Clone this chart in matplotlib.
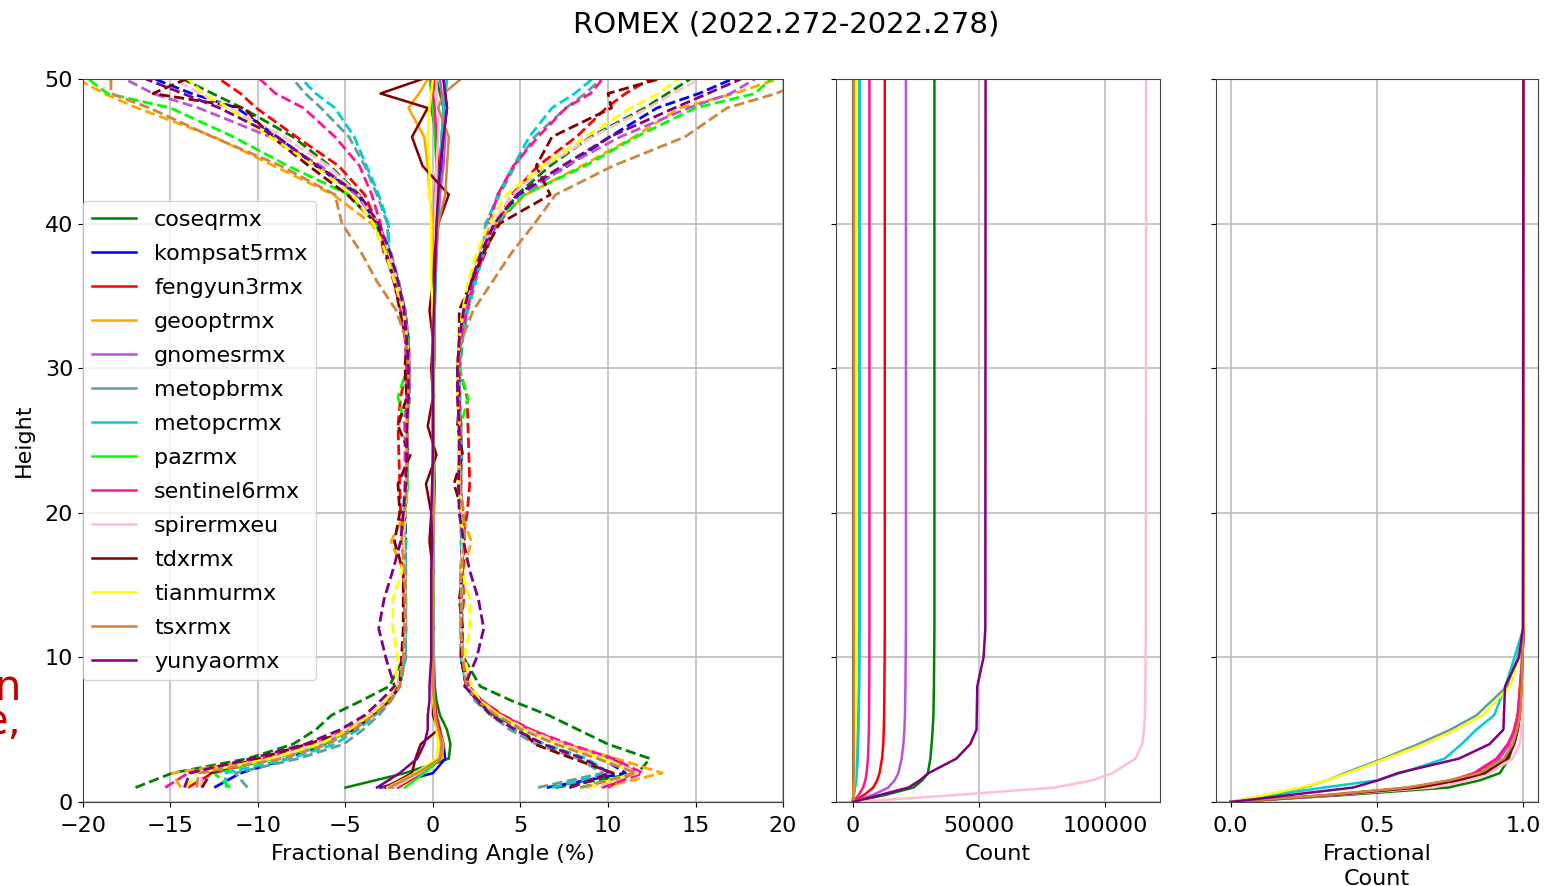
import numpy as np
import matplotlib.pyplot as plt

missions = ['coseqrmx', 'kompsat5rmx', 'fengyun3rmx', 'geooptrmx', 'gnomesrmx',
            'metopbrmx', 'metopcrmx', 'pazrmx', 'sentinel6rmx', 'spirermxeu',
            'tdxrmx', 'tianmurmx', 'tsxrmx', 'yunyaormx']
colors = ['green', 'blue', 'red', 'orange', 'mediumorchid', 'cadetblue',
          'darkturquoise', 'lime', 'deeppink', 'pink', 'maroon', 'yellow',
          'peru', 'purple']

# heights (km) of the bending angle statistics
heights = [1, 2, 3, 4, 5, 6, 7, 8, 10, 12, 14, 16, 18, 20, 22, 24, 26, 28, 30,
           32, 34, 36, 38, 40, 42, 44, 46, 48, 49, 50]

# mean fractional bending angle (%)
mean_coseq = [-5.0, -1.6, 0.9, 1.0, 0.8, 0.4, 0.2, 0.1, 0.05, 0.0, 0.0, 0.05, 0.0, 0.0, 0.05,
              0.0, 0.0, 0.05, 0.0, 0.05, 0.1, 0.1, 0.15, 0.2, 0.3, 0.4, 0.5, 0.6, 0.4, 0.2]
mean_kompsat5 = [-3.0, 0.0, 0.7, 0.6, 0.3, 0.1, 0.05, 0.0, 0.0, 0.05, 0.0, 0.0, 0.05, 0.0, 0.0,
                 0.05, 0.0, 0.0, 0.05, 0.1, 0.1, 0.1, 0.15, 0.2, 0.3, 0.5, 0.6, 0.8, 0.7, 0.6]
mean_fengyun3 = [-2.0, -0.6, 0.5, 0.6, 0.4, 0.2, 0.1, 0.05, 0.0, 0.0, 0.05, 0.0, 0.0, 0.05, 0.1,
                 0.05, 0.0, 0.05, 0.0, 0.0, 0.05, 0.1, 0.1, 0.2, 0.3, 0.3, 0.2, -0.1, 0.0, 0.1]
mean_geoopt = [-2.4, -0.9, 0.5, 0.6, 0.3, 0.1, 0.05, 0.0, 0.0, 0.0, 0.05, 0.0, -0.1, 0.0, 0.05,
               0.0, 0.0, 0.0, 0.05, 0.0, 0.0, 0.05, 0.0, 0.0, -0.2, -0.3, -0.5, -1.4, -0.8, -0.3]
mean_gnomes = [-2.2, -0.7, 0.4, 0.5, 0.3, 0.1, 0.05, 0.0, 0.0, 0.05, 0.05, 0.0, 0.0, 0.05, 0.0,
               0.05, 0.0, 0.05, 0.05, 0.1, 0.1, 0.15, 0.2, 0.3, 0.4, 0.6, 0.7, 0.6, 0.5, 0.4]
mean_metopb = [-2.3, -0.8, 0.3, 0.4, 0.2, 0.1, 0.0, 0.0, 0.05, 0.0, 0.0, 0.05, 0.0, 0.0, 0.05,
               0.0, 0.0, 0.05, 0.0, 0.05, 0.1, 0.1, 0.15, 0.2, 0.3, 0.4, 0.5, 0.6, 0.7, 0.8]
mean_metopc = [-2.5, -0.9, 0.3, 0.4, 0.2, 0.1, 0.05, 0.0, 0.0, 0.05, 0.0, 0.0, 0.05, 0.0, 0.0,
               0.05, 0.0, 0.0, 0.05, 0.1, 0.1, 0.15, 0.2, 0.25, 0.3, 0.4, 0.5, 0.6, 0.7, 0.8]
mean_paz = [-1.6, -0.5, 0.4, 0.5, 0.3, 0.1, 0.05, 0.0, 0.0, 0.0, 0.05, 0.0, 0.0, 0.0, 0.05,
            0.0, 0.0, 0.0, 0.0, 0.05, 0.05, 0.1, 0.1, 0.1, 0.2, 0.2, 0.1, 0.0, -0.1, -0.2]
mean_sentinel6 = [-2.8, -1.0, 0.3, 0.5, 0.3, 0.15, 0.1, 0.05, 0.0, 0.0, 0.0, 0.0, 0.0, 0.0, 0.0,
                  0.0, 0.0, 0.0, 0.0, 0.0, 0.05, 0.05, 0.1, 0.1, 0.1, 0.2, 0.2, 0.1, 0.0, -0.1]
mean_spire = [-2.2, -0.8, 0.3, 0.4, 0.2, 0.1, 0.05, 0.0, 0.0, 0.0, 0.0, 0.0, 0.0, 0.0, 0.0,
              0.0, 0.0, 0.0, 0.0, 0.0, 0.05, 0.05, 0.1, 0.1, 0.15, 0.2, 0.3, 0.3, 0.2, 0.2]
mean_tdx = [-2.7, -1.2, -1.0, -0.7, 0.3, 0.0, 0.0, 0.0, -0.1, 0.0, -0.1, 0.0, -0.2, -0.1, -0.4,
            0.2, -0.3, 0.0, -0.1, 0.0, -0.2, 0.0, 0.1, 0.3, 0.9, -0.6, -1.2, -0.3, -3.0, -0.6]
mean_tianmu = [-2.6, -1.0, 0.2, 0.3, 0.2, 0.1, 0.0, 0.0, -0.1, -0.1, -0.1, -0.05, 0.0, 0.0, 0.0,
               0.0, 0.0, 0.0, 0.0, 0.0, 0.0, -0.1, -0.1, -0.1, -0.2, -0.2, -0.3, -0.2, -0.1, 0.0]
mean_tsx = [-2.5, -0.9, 0.4, 0.5, 0.3, 0.1, 0.05, 0.0, 0.0, 0.0, 0.0, 0.0, 0.0, 0.05, 0.0,
            0.0, 0.05, 0.0, 0.0, 0.05, 0.1, 0.1, 0.2, 0.3, 0.7, 0.8, 0.9, 0.3, 0.6, 1.6]
mean_yunyao = [-3.2, -1.9, -0.9, -0.5, -0.3, -0.3, -0.2, -0.2, -0.1, -0.1, -0.1, -0.1, -0.05, -0.1, -0.05,
               0.0, 0.0, 0.0, 0.0, 0.0, 0.05, 0.1, 0.15, 0.2, 0.3, 0.4, 0.6, 0.8, 0.7, 0.6]

# standard deviation of fractional bending angle (%)
std_coseq = [12.0, 13.3, 11.5, 9.0, 7.5, 6.2, 4.3, 2.6, 1.7, 1.6, 1.6, 1.6, 1.7, 1.6, 1.5,
             1.5, 1.5, 1.4, 1.4, 1.5, 1.7, 2.1, 2.7, 3.4, 4.5, 6.3, 8.5, 11.5, 13.0, 14.5]
std_kompsat5 = [9.5, 11.0, 9.0, 6.8, 5.2, 3.6, 2.6, 1.9, 1.6, 1.6, 1.6, 1.6, 1.6, 1.6, 1.5,
                1.5, 1.5, 1.4, 1.4, 1.5, 1.7, 2.1, 2.7, 3.4, 4.6, 7.2, 9.5, 12.0, 14.5, 16.5]
std_fengyun3 = [12.0, 12.0, 9.8, 7.0, 5.2, 3.8, 2.7, 2.0, 1.6, 1.6, 1.7, 1.7, 1.7, 1.9, 2.0,
                2.0, 2.0, 1.9, 1.5, 1.5, 1.7, 2.2, 2.9, 3.4, 4.2, 5.7, 8.0, 10.0, 11.0, 12.3]
std_geoopt = [12.0, 14.0, 10.0, 7.0, 5.0, 3.6, 2.6, 2.0, 1.7, 1.6, 1.6, 1.7, 2.3, 1.6, 1.5,
              1.5, 1.5, 1.4, 1.4, 1.5, 1.7, 2.1, 2.6, 3.5, 5.5, 8.8, 12.0, 15.5, 18.0, 20.0]
std_gnomes = [11.0, 12.5, 9.5, 6.8, 5.0, 3.6, 2.6, 2.0, 1.7, 1.6, 1.6, 1.6, 1.7, 1.7, 1.5,
              1.5, 1.5, 1.4, 1.4, 1.5, 1.7, 2.1, 2.6, 3.4, 4.8, 7.0, 10.0, 14.0, 16.5, 18.0]
std_metopb = [8.3, 10.5, 8.0, 5.5, 4.2, 3.2, 2.4, 1.9, 1.6, 1.6, 1.6, 1.6, 1.6, 1.6, 1.5,
              1.5, 1.5, 1.5, 1.5, 1.6, 1.8, 2.2, 2.7, 2.8, 3.5, 4.3, 5.3, 7.0, 8.0, 8.8]
std_metopc = [9.3, 11.0, 8.5, 6.0, 4.5, 3.4, 2.5, 1.9, 1.6, 1.6, 1.6, 1.6, 1.6, 1.7, 1.6,
              1.6, 1.6, 1.5, 1.5, 1.6, 1.9, 2.3, 2.7, 2.8, 3.4, 4.2, 5.0, 6.2, 7.4, 8.3]
std_paz = [10.0, 12.0, 9.5, 6.8, 5.0, 3.6, 2.6, 2.0, 1.7, 1.6, 1.6, 1.6, 1.7, 1.6, 1.5,
           1.5, 1.6, 2.0, 1.5, 1.5, 1.7, 2.1, 2.6, 3.4, 5.0, 8.5, 11.5, 15.0, 18.5, 19.5]
std_sentinel6 = [12.5, 13.0, 10.0, 7.3, 5.3, 3.8, 2.7, 2.0, 1.7, 1.6, 1.6, 1.6, 1.7, 1.6, 1.6,
                 1.6, 1.6, 1.5, 1.5, 1.6, 1.9, 2.3, 2.8, 3.1, 3.6, 4.4, 5.8, 7.5, 9.0, 9.8]
std_spire = [11.0, 12.5, 9.5, 7.0, 5.2, 3.7, 2.6, 2.0, 1.7, 1.6, 1.6, 1.6, 1.7, 1.7, 1.5,
             1.5, 1.5, 1.4, 1.4, 1.5, 1.7, 2.1, 2.6, 3.3, 4.4, 6.2, 8.8, 12.0, 13.5, 15.0]
std_tdx = [10.5, 11.5, 9.0, 6.5, 4.8, 3.5, 2.5, 1.9, 1.7, 1.7, 1.6, 1.7, 2.0, 1.8, 1.6,
           1.5, 1.7, 1.5, 1.5, 1.5, 1.7, 2.2, 2.8, 3.5, 5.8, 6.5, 8.0, 10.5, 13.0, 13.5]
std_tianmu = [11.5, 12.5, 9.5, 6.8, 5.0, 3.7, 2.7, 2.2, 1.9, 2.2, 2.2, 1.7, 1.7, 1.6, 1.5,
              1.5, 1.5, 1.4, 1.4, 1.5, 1.7, 2.1, 2.6, 3.3, 4.4, 6.5, 9.0, 11.5, 13.0, 14.0]
std_tsx = [11.0, 12.5, 9.0, 6.5, 4.8, 3.5, 2.5, 1.9, 1.7, 1.6, 1.6, 1.6, 1.8, 1.7, 1.5,
           1.5, 1.5, 1.4, 1.4, 1.6, 2.2, 3.3, 4.3, 5.5, 6.3, 9.5, 13.5, 16.5, 19.0, 20.0]
std_yunyao = [11.0, 12.0, 9.5, 6.8, 5.0, 3.6, 2.8, 2.0, 2.6, 3.0, 2.7, 2.2, 1.8, 1.6, 1.5,
              1.5, 1.5, 1.4, 1.4, 1.5, 1.7, 2.1, 2.6, 3.3, 4.5, 7.0, 9.5, 13.0, 15.0, 17.0]

# cumulative counts
count_heights = [0, 0.5, 1, 1.5, 2, 3, 4, 5, 6, 8, 10, 12, 50]
count_coseq = [0, 13000, 24000, 27500, 29700, 30700, 31200, 31600, 31900, 32100, 32200, 32300, 32300]
count_kompsat5 = [0, 105, 186, 228, 258, 282, 290, 294, 296, 298, 299, 300, 300]
count_fengyun3 = [0, 4500, 8000, 9600, 10500, 11500, 12000, 12200, 12350, 12450, 12550, 12600, 12600]
count_geoopt = [0, 150, 270, 340, 385, 420, 434, 440, 443, 446, 448, 450, 450]
count_gnomes = [0, 8000, 14000, 16500, 18000, 19300, 20000, 20400, 20600, 20800, 20900, 21000, 21000]
count_metopb = [0, 325, 625, 825, 975, 1300, 1600, 1875, 2100, 2360, 2450, 2500, 2500]
count_metopc = [0, 390, 830, 1300, 1510, 1900, 2050, 2180, 2340, 2440, 2520, 2600, 2600]
count_paz = [0, 100, 178, 215, 242, 263, 270, 274, 276, 278, 279, 280, 280]
count_sentinel6 = [0, 2300, 4000, 4900, 5400, 5900, 6150, 6300, 6380, 6440, 6480, 6500, 6500]
count_spire = [0, 42000, 80000, 95000, 103000, 112000, 114800, 115500, 115800, 116000, 116100, 116200, 116300]
count_tdx = [0, 115, 205, 248, 278, 302, 310, 314, 316, 318, 319, 320, 320]
count_tianmu = [0, 156, 312, 430, 520, 690, 858, 1000, 1118, 1240, 1280, 1300, 1300]
count_tsx = [0, 112, 200, 246, 280, 308, 318, 323, 326, 328, 329, 330, 330]
count_yunyao = [0, 11000, 22000, 26500, 30000, 41000, 46500, 49000, 49100, 49300, 51800, 52500, 52600]

means = [mean_coseq, mean_kompsat5, mean_fengyun3, mean_geoopt, mean_gnomes, mean_metopb,
         mean_metopc, mean_paz, mean_sentinel6, mean_spire, mean_tdx, mean_tianmu, mean_tsx,
         mean_yunyao]
stds = [std_coseq, std_kompsat5, std_fengyun3, std_geoopt, std_gnomes, std_metopb,
        std_metopc, std_paz, std_sentinel6, std_spire, std_tdx, std_tianmu, std_tsx,
        std_yunyao]
counts = [count_coseq, count_kompsat5, count_fengyun3, count_geoopt, count_gnomes, count_metopb,
          count_metopc, count_paz, count_sentinel6, count_spire, count_tdx, count_tianmu,
          count_tsx, count_yunyao]

fs = 16
fig = plt.figure(figsize=(15.45, 8.86), dpi=100)
ax1 = fig.add_axes([0.0537, 0.0948, 0.4531, 0.816])
ax2 = fig.add_axes([0.5411, 0.0948, 0.2097, 0.816], sharey=ax1)
ax3 = fig.add_axes([0.7871, 0.0948, 0.2084, 0.816], sharey=ax1)

for name, col, m, s, c in zip(missions, colors, means, stds, counts):
    m = np.array(m)
    s = np.array(s)
    c = np.array(c, dtype=float)
    ax1.plot(m, heights, color=col, lw=1.8, label=name)
    ax1.plot(m - s, heights, color=col, lw=2, ls='--')
    ax1.plot(m + s, heights, color=col, lw=2, ls='--')
    ax2.plot(c, count_heights, color=col, lw=1.8)
    ax3.plot(c / c.max(), count_heights, color=col, lw=1.8)

ax1.set_xlim(-20, 20)
ax1.set_ylim(0, 50)
ax1.set_yticks([0, 10, 20, 30, 40, 50])
ax1.set_xticks([-20, -15, -10, -5, 0, 5, 10, 15, 20])
ax1.set_xlabel('Fractional Bending Angle (%)', fontsize=fs, labelpad=6)
ax1.set_ylabel('Height', fontsize=fs, labelpad=8)
ax1.legend(loc='center left', fontsize=fs, labelspacing=0.63, handlelength=2.0,
           handletextpad=0.8, borderaxespad=0.0)

ax2.set_xlim(-6750, 121800)
ax2.set_xticks([0, 50000, 100000])
ax2.set_xlabel('Count', fontsize=fs, labelpad=6)

ax3.set_xlim(-0.05, 1.05)
ax3.set_xticks([0.0, 0.5, 1.0])
ax3.set_xlabel('Fractional\nCount', fontsize=fs, labelpad=6, linespacing=1.3)

for ax in [ax1, ax2, ax3]:
    ax.grid(True, color='#b8b8b8', lw=1.1)
    ax.tick_params(labelsize=fs)
    ax.tick_params(axis='x', pad=6.5)
    for sp in ax.spines.values():
        sp.set_color('#444444')
for ax in [ax2, ax3]:
    ax.tick_params(axis='y', labelleft=False)

fig.text(0.509, 0.972, 'ROMEX (2022.272-2022.278)', ha='center', va='center', fontsize=21)

# stray text cut from the slide at the left edge
fig.text(21 / 1545, 1 - 700 / 886, 'n', ha='right', va='baseline', fontsize=30, color='#c00000')
fig.text(22 / 1545, 1 - 734 / 886, 'e,', ha='right', va='baseline', fontsize=30, color='#c00000')

fig.savefig('out.png', dpi=100)
